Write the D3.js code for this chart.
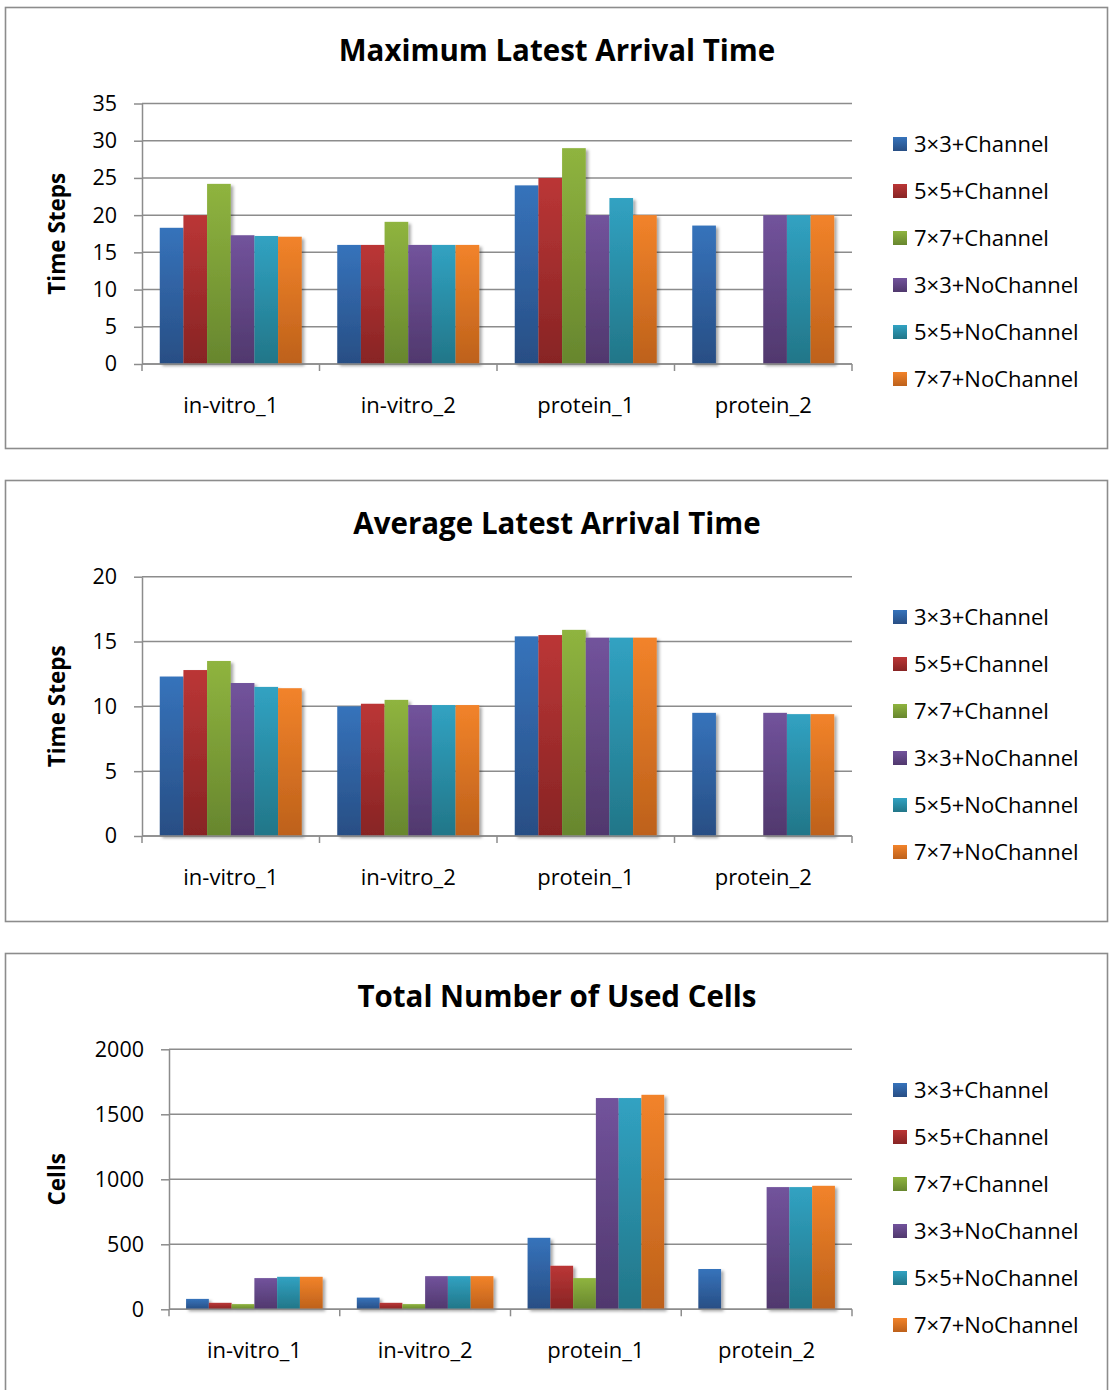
<!DOCTYPE html>
<html>
<head>
<meta charset="utf-8">
<script src="https://cdn.jsdelivr.net/npm/d3@7"></script>
<style>
  html, body { margin: 0; padding: 0; background: #fff; }
  svg { display: block; font-family: "Open Sans", Lato, sans-serif; }
</style>
</head>
<body>
<svg id="chart" width="1109" height="1390"></svg>
<script>
// Benchmarks and router configurations
const categories = ["in-vitro_1", "in-vitro_2", "protein_1", "protein_2"];
const seriesNames = ["3×3+Channel", "5×5+Channel", "7×7+Channel",
                     "3×3+NoChannel", "5×5+NoChannel", "7×7+NoChannel"];

// One row per configuration, one value per benchmark (null = not available)
const maxArrival = [
  [18.3, 16, 24, 18.6],
  [20, 16, 25, null],
  [24.2, 19.1, 29, null],
  [17.3, 16, 20, 20],
  [17.2, 16, 22.3, 20],
  [17.1, 16, 20, 20]
];
const avgArrival = [
  [12.3, 10.0, 15.4, 9.5],
  [12.8, 10.2, 15.5, null],
  [13.5, 10.5, 15.9, null],
  [11.8, 10.1, 15.3, 9.5],
  [11.5, 10.1, 15.3, 9.4],
  [11.4, 10.1, 15.3, 9.4]
];
const usedCells = [
  [80, 90, 550, 310],
  [50, 50, 335, null],
  [40, 40, 240, null],
  [240, 255, 1625, 940],
  [250, 255, 1625, 940],
  [250, 255, 1650, 950]
];

const maxTicks = [0, 5, 10, 15, 20, 25, 30, 35];
const avgTicks = [0, 5, 10, 15, 20];
const cellTicks = [0, 500, 1000, 1500, 2000];

// Gradient stops (top, bottom) for each configuration
const seriesColors = [
  ["#3673bb", "#284e84"],
  ["#bb3636", "#872424"],
  ["#8fb43f", "#67862e"],
  ["#72539c", "#50386d"],
  ["#31a2c2", "#227688"],
  ["#f2832a", "#bd611b"]
];

const FONT = "'Open Sans', Lato, sans-serif";
const svg = d3.select("#chart");
const defs = svg.append("defs");

seriesColors.forEach((c, i) => {
  const g = defs.append("linearGradient")
    .attr("id", "grad" + i)
    .attr("x1", 0).attr("y1", 0).attr("x2", 0).attr("y2", 1);
  g.append("stop").attr("offset", "0%").attr("stop-color", c[0]);
  g.append("stop").attr("offset", "100%").attr("stop-color", c[1]);
});

const shadow = defs.append("filter").attr("id", "barShadow")
  .attr("x", "-20%").attr("y", "-20%").attr("width", "150%").attr("height", "150%");
shadow.append("feDropShadow")
  .attr("dx", 2.5).attr("dy", 2).attr("stdDeviation", 1.8)
  .attr("flood-color", "#000").attr("flood-opacity", 0.35);

const gridColor = "#8c8c8c";

const panels = [
  { top: 7,   title: "Maximum Latest Arrival Time", yLabel: "Time Steps",
    data: maxArrival, ticks: maxTicks, left: 142, plotTop: 103.5, plotBottom: 364 },
  { top: 480, title: "Average Latest Arrival Time", yLabel: "Time Steps",
    data: avgArrival, ticks: avgTicks, left: 142, plotTop: 576.7, plotBottom: 836 },
  { top: 953, title: "Total Number of Used Cells", yLabel: "Cells",
    data: usedCells, ticks: cellTicks, left: 169, plotTop: 1049.3, plotBottom: 1309.3 }
];

const plotRight = 852;

panels.forEach(p => {
  const g = svg.append("g");

  // panel frame
  g.append("rect")
    .attr("x", 5.5).attr("y", p.top + 0.5)
    .attr("width", 1102).attr("height", 441)
    .attr("fill", "#fff")
    .attr("stroke", gridColor).attr("stroke-width", 1.6);

  // title
  g.append("text")
    .attr("x", 557).attr("y", p.top + 54)
    .attr("text-anchor", "middle")
    .attr("font-family", FONT)
    .attr("font-size", 29.5).attr("font-weight", "bold").attr("fill", "#000")
    .text(p.title);

  const x = d3.scaleBand().domain(categories).range([p.left, plotRight]).paddingInner(0).paddingOuter(0);
  const bw = x.bandwidth();
  const xs = d3.scaleBand().domain(d3.range(seriesNames.length)).range([bw * 0.1, bw * 0.9]);
  const y = d3.scaleLinear()
    .domain([0, p.ticks[p.ticks.length - 1]])
    .range([p.plotBottom, p.plotTop]);

  // horizontal gridlines
  g.append("g").selectAll("line").data(p.ticks).join("line")
    .attr("x1", p.left).attr("x2", plotRight)
    .attr("y1", d => y(d)).attr("y2", d => y(d))
    .attr("stroke", gridColor).attr("stroke-width", 1.5);

  // bars
  const bars = g.append("g").attr("filter", "url(#barShadow)");
  p.data.forEach((row, si) => {
    bars.append("g").selectAll("rect")
      .data(row.map((v, ci) => ({ v, c: categories[ci] })).filter(d => d.v != null))
      .join("rect")
      .attr("x", d => x(d.c) + xs(si))
      .attr("width", xs.bandwidth())
      .attr("y", d => y(d.v))
      .attr("height", d => y(0) - y(d.v))
      .attr("fill", "url(#grad" + si + ")");
  });

  // y axis
  const yAxis = g.append("g")
    .attr("transform", `translate(${p.left},0)`)
    .call(d3.axisLeft(y).tickValues(p.ticks).tickFormat(d3.format("d"))
      .tickSize(8).tickSizeOuter(0).tickPadding(17));
  yAxis.select(".domain").attr("stroke", gridColor).attr("stroke-width", 1.5);
  yAxis.selectAll(".tick line").attr("stroke", gridColor).attr("stroke-width", 1.5);
  yAxis.selectAll(".tick text")
    .attr("font-family", FONT)
    .attr("font-size", 21.5).attr("fill", "#000");

  // x axis: baseline, category boundary ticks, centred labels
  const xAxis = g.append("g")
    .attr("transform", `translate(0,${p.plotBottom})`)
    .call(d3.axisBottom(x).tickSize(0).tickPadding(33));
  xAxis.select(".domain").remove();
  xAxis.selectAll(".tick text")
    .attr("font-family", FONT)
    .attr("font-size", 22).attr("fill", "#000");

  g.append("line")
    .attr("x1", p.left).attr("x2", plotRight)
    .attr("y1", p.plotBottom).attr("y2", p.plotBottom)
    .attr("stroke", gridColor).attr("stroke-width", 1.5);

  const bounds = categories.map(c => x(c)).concat([plotRight]);
  g.append("g").selectAll("line").data(bounds).join("line")
    .attr("x1", d => d).attr("x2", d => d)
    .attr("y1", p.plotBottom).attr("y2", p.plotBottom + 7)
    .attr("stroke", gridColor).attr("stroke-width", 1.5);

  // y-axis title
  const midY = (p.plotTop + p.plotBottom) / 2;
  g.append("text")
    .attr("transform", `translate(65,${midY}) rotate(-90)`)
    .attr("text-anchor", "middle")
    .attr("font-family", FONT)
    .attr("font-size", 22.5).attr("font-weight", "bold").attr("fill", "#000")
    .text(p.yLabel);

  // legend
  const legend = g.append("g");
  seriesNames.forEach((name, i) => {
    const cy = p.top + 137 + i * 47;
    legend.append("rect")
      .attr("x", 893).attr("y", cy - 7)
      .attr("width", 14).attr("height", 14)
      .attr("fill", "url(#grad" + i + ")");
    legend.append("text")
      .attr("x", 914).attr("y", cy)
      .attr("dy", "0.36em")
      .attr("font-family", FONT)
      .attr("font-size", 22).attr("fill", "#000")
      .text(name);
  });
});
</script>
</body>
</html>
